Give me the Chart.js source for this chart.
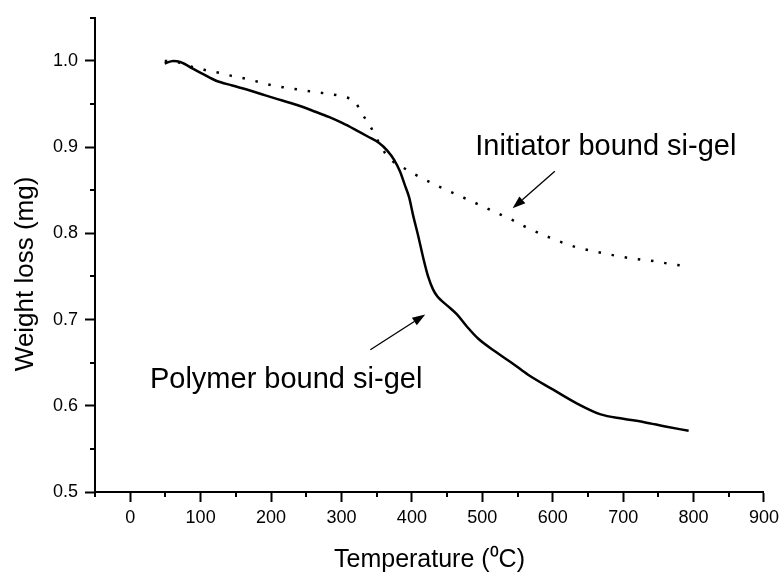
<!DOCTYPE html>
<html>
<head>
<meta charset="utf-8">
<script src="https://cdn.jsdelivr.net/npm/chart.js@4.4.0/dist/chart.umd.min.js"></script>
<style>
  html, body { margin: 0; padding: 0; background: #fff; }
</style>
</head>
<body>
<canvas id="tga" width="784" height="576"></canvas>
<script>
// Polymer bound si-gel (solid)
const polymerTemp = [49, 61, 72, 89, 105, 122, 145, 169, 192, 216, 240, 263, 282, 301, 320, 338, 353, 365, 375, 383, 390, 396, 402, 409, 416, 423, 430, 436, 442, 452, 464, 478, 494, 520, 545, 565, 600, 636, 668, 700, 730, 760, 793];
const polymerWeight = [0.997, 1.000, 0.9985, 0.991, 0.984, 0.977, 0.9715, 0.966, 0.960, 0.954, 0.948, 0.941, 0.935, 0.928, 0.920, 0.912, 0.905, 0.896, 0.885, 0.872, 0.856, 0.842, 0.820, 0.797, 0.772, 0.750, 0.735, 0.727, 0.722, 0.715, 0.706, 0.692, 0.678, 0.662, 0.648, 0.636, 0.619, 0.602, 0.590, 0.585, 0.581, 0.576, 0.571];

// Initiator bound si-gel (dotted)
const initiatorTemp = [49, 65, 89, 105, 127, 145, 164, 183, 202, 221, 240, 261, 280, 299, 310, 318, 329, 341, 352, 362, 372, 386, 405, 442, 480, 520, 540, 560, 596, 633, 660, 690, 720, 746, 770, 790];
const initiatorWeight = [1.000, 0.999, 0.9928, 0.9897, 0.986, 0.9824, 0.9793, 0.9755, 0.9716, 0.969, 0.9667, 0.964, 0.962, 0.9594, 0.957, 0.954, 0.939, 0.924, 0.907, 0.893, 0.884, 0.877, 0.868, 0.853, 0.839, 0.824, 0.8165, 0.808, 0.795, 0.784, 0.779, 0.774, 0.770, 0.7675, 0.764, 0.762];

const xMajorTicks = [0, 100, 200, 300, 400, 500, 600, 700, 800, 900];
const yMajorTicks = [0.5, 0.6, 0.7, 0.8, 0.9, 1.0];
const yTitle = 'Weight loss (mg)';

// annotations, in data units
const noteText = ["Initiator bound si-gel", "Polymer bound si-gel"];
const noteAt = [[490, 0.900], [28, 0.630]];
const arrowFrom = [[603, 0.872], [341, 0.665]];
const arrowTo = [[543, 0.829], [419, 0.706]];

Chart.defaults.font.family = '"Liberation Sans", Arial, sans-serif';
Chart.defaults.color = '#000';

const toPts = (xs, ys) => xs.map((x, i) => ({ x: x, y: ys[i] }));
const isMajor = (list, v) => list.some(m => Math.abs(m - v) < 1e-6);

const minorTicks = {
    id: 'minorTicks',
    afterDraw(chart) {
        const { ctx, chartArea, scales } = chart;
        ctx.save();
        ctx.strokeStyle = '#000';
        ctx.lineWidth = 2;
        ctx.beginPath();
        scales.x.ticks.forEach(t => {
            if (isMajor(xMajorTicks, t.value)) return;
            const px = Math.round(scales.x.getPixelForValue(t.value));
            ctx.moveTo(px, chartArea.bottom);
            ctx.lineTo(px, chartArea.bottom + 5);
        });
        scales.y.ticks.forEach(t => {
            if (isMajor(yMajorTicks, t.value)) return;
            const py = Math.round(scales.y.getPixelForValue(t.value));
            ctx.moveTo(chartArea.left, py);
            ctx.lineTo(chartArea.left - 5, py);
        });
        ctx.stroke();

        // y axis title, sits a bit below the middle of the axis like the original
        ctx.fillStyle = '#000';
        ctx.font = '26px "Liberation Sans", Arial, sans-serif';
        ctx.textAlign = 'center';
        ctx.textBaseline = 'middle';
        ctx.translate(26, (chartArea.top + chartArea.bottom) / 2 + 19);
        ctx.rotate(-Math.PI / 2);
        ctx.fillText(yTitle, 0, 0);
        ctx.restore();
    }
};

const notes = {
    id: 'notes',
    afterDatasetsDraw(chart) {
        const { ctx, scales } = chart;
        const x = scales.x, y = scales.y;
        ctx.save();
        ctx.fillStyle = '#000';
        ctx.font = '29px "Liberation Sans", Arial, sans-serif';
        ctx.textAlign = 'left';
        ctx.textBaseline = 'middle';
        noteText.forEach((txt, i) => {
            ctx.fillText(txt, x.getPixelForValue(noteAt[i][0]), y.getPixelForValue(noteAt[i][1]));
        });

        ctx.strokeStyle = '#000';
        ctx.lineWidth = 1.3;
        arrowFrom.forEach((from, i) => {
            const x0 = x.getPixelForValue(from[0]), y0 = y.getPixelForValue(from[1]);
            const x1 = x.getPixelForValue(arrowTo[i][0]), y1 = y.getPixelForValue(arrowTo[i][1]);
            const ang = Math.atan2(y1 - y0, x1 - x0);
            const len = 13, half = 4.5;
            const bx = x1 - len * Math.cos(ang), by = y1 - len * Math.sin(ang);
            ctx.beginPath();
            ctx.moveTo(x0, y0);
            ctx.lineTo(bx, by);
            ctx.stroke();
            ctx.beginPath();
            ctx.moveTo(x1, y1);
            ctx.lineTo(bx + half * Math.sin(ang), by - half * Math.cos(ang));
            ctx.lineTo(bx - half * Math.sin(ang), by + half * Math.cos(ang));
            ctx.closePath();
            ctx.fill();
        });
        ctx.restore();
    }
};

new Chart(document.getElementById('tga'), {
    type: 'scatter',
    data: {
        datasets: [
            {
                label: 'Polymer bound si-gel',
                data: toPts(polymerTemp, polymerWeight),
                showLine: true,
                borderColor: '#000',
                borderWidth: 2.5,
                pointRadius: 0,
                cubicInterpolationMode: 'monotone'
            },
            {
                label: 'Initiator bound si-gel',
                data: toPts(initiatorTemp, initiatorWeight),
                showLine: true,
                borderColor: '#000',
                borderWidth: 2.5,
                borderDash: [2.5, 10.8],
                pointRadius: 0,
                cubicInterpolationMode: 'monotone'
            }
        ]
    },
    options: {
        responsive: false,
        animation: false,
        devicePixelRatio: 1,
        layout: {
            padding: { left: 0, top: 14, right: 17, bottom: 0 }
        },
        plugins: {
            legend: { display: false },
            tooltip: { enabled: false }
        },
        scales: {
            x: {
                type: 'linear',
                min: -50,
                max: 900,
                afterFit: scale => { scale.height = 84; },
                border: { display: true, color: '#000', width: 2 },
                grid: {
                    drawOnChartArea: false,
                    drawTicks: true,
                    tickLength: 10,
                    tickWidth: 2,
                    tickColor: ctx => isMajor(xMajorTicks, ctx.tick.value) ? '#000' : 'rgba(0,0,0,0)'
                },
                ticks: {
                    stepSize: 50,
                    autoSkip: false,
                    maxRotation: 0,
                    padding: 5,
                    font: { size: 18 },
                    callback: v => isMajor(xMajorTicks, v) ? String(Math.round(v)) : ''
                },
                title: {
                    display: true,
                    text: 'Temperature (⁰C)',
                    font: { size: 25, lineHeight: 1 },
                    padding: { top: 0, bottom: 3.5 }
                }
            },
            y: {
                type: 'linear',
                min: 0.5,
                max: 1.05,
                afterFit: scale => { scale.width = 95; },
                border: { display: true, color: '#000', width: 2 },
                grid: {
                    drawOnChartArea: false,
                    drawTicks: true,
                    tickLength: 10,
                    tickWidth: 2,
                    tickColor: ctx => isMajor(yMajorTicks, ctx.tick.value) ? '#000' : 'rgba(0,0,0,0)'
                },
                ticks: {
                    stepSize: 0.05,
                    autoSkip: false,
                    padding: 7,
                    font: { size: 18 },
                    callback: v => isMajor(yMajorTicks, v) ? v.toFixed(1) : ''
                },
                title: { display: false }
            }
        }
    },
    plugins: [minorTicks, notes]
});
</script>
</body>
</html>
